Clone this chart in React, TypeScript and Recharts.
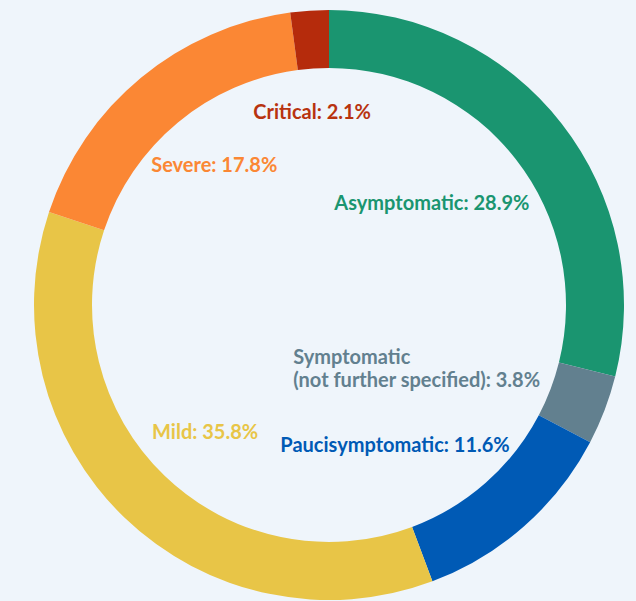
import React from "react";
import { PieChart, Pie, Cell } from "recharts";

const categories = [
  "Asymptomatic",
  "Symptomatic\n(not further specified)",
  "Paucisymptomatic",
  "Mild",
  "Severe",
  "Critical",
];
const shares = [28.9, 3.8, 11.6, 35.8, 17.8, 2.1];

const sliceColors = ["#1A9570", "#62808F", "#005AB5", "#E8C547", "#FB8734", "#B52B0C"];
const labelColors = ["#1A9570", "#62808F", "#005AB5", "#E8C547", "#FB8734", "#B8330F"];
// label nudges relative to a point on the label radius (style only)
const labelNudges: { dx: number; dy: number; anchor: string }[] = [
  { dx: -39, dy: 8, anchor: "middle" },
  { dx: -204, dy: -2, anchor: "start" },
  { dx: -53, dy: 4, anchor: "middle" },
  { dx: 1, dy: -4, anchor: "middle" },
  { dx: 0, dy: -2, anchor: "middle" },
  { dx: -5, dy: -14, anchor: "middle" },
];

const data = categories.map((name, i) => ({ name, value: shares[i] }));

const BG = "#EFF5FB";
const FONT = "Lato, 'Open Sans', sans-serif";
const RAD = Math.PI / 180;

const renderLabel = (props: any) => {
  const { cx, cy, midAngle, index, name, value } = props;
  const r = 180;
  const nudge = labelNudges[index];
  const x = cx + r * Math.cos(-midAngle * RAD) + nudge.dx;
  const y = cy + r * Math.sin(-midAngle * RAD) + nudge.dy;
  const lines = String(name).split("\n");
  const text = `${lines[lines.length - 1]}: ${Number(value).toFixed(1)}%`;
  const all = [...lines.slice(0, -1), text];
  const lineH = 23;
  const y0 = y - ((all.length - 1) * lineH) / 2;
  return (
    <text
      key={`lbl-${index}`}
      x={x}
      y={y0}
      fill={labelColors[index]}
      textAnchor={nudge.anchor as any}
      dominantBaseline="central"
      fontFamily={FONT}
      fontWeight={700}
      fontSize={20}
    >
      {all.map((t, k) => (
        <tspan key={k} x={x} dy={k === 0 ? 0 : lineH}>
          {t}
        </tspan>
      ))}
    </text>
  );
};

export default function App() {
  return (
    <div
      style={{
        position: "absolute",
        left: 0,
        top: 0,
        width: 636,
        height: 601,
        background: BG,
        overflow: "hidden",
      }}
    >
      <PieChart width={636} height={601} margin={{ top: 0, right: 0, bottom: 0, left: 0 }}>
        <Pie
          data={data}
          dataKey="value"
          nameKey="name"
          cx={329}
          cy={305}
          innerRadius={237}
          outerRadius={295}
          startAngle={90}
          endAngle={-270}
          stroke="none"
          label={renderLabel}
          labelLine={false}
          isAnimationActive={false}
        >
          {data.map((d, i) => (
            <Cell key={d.name} fill={sliceColors[i]} />
          ))}
        </Pie>
      </PieChart>
    </div>
  );
}
